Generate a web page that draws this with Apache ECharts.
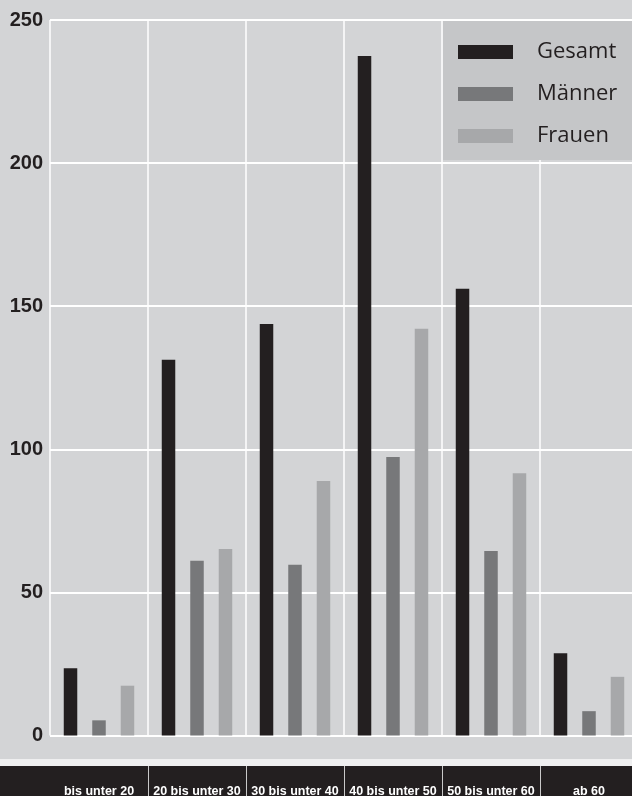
<!DOCTYPE html>
<html>
<head>
<meta charset="utf-8">
<style>
  html, body { margin: 0; padding: 0; background: #d3d4d6; }
  #chart { width: 632px; height: 796px; }
</style>
<script src="https://cdn.jsdelivr.net/npm/echarts@6/dist/echarts.min.js"></script>
</head>
<body>
<div id="chart"></div>
<script>
const categories = ['bis unter 20', '20 bis unter 30', '30 bis unter 40', '40 bis unter 50', '50 bis unter 60', 'ab 60'];
const seriesNames = ['Gesamt', 'Männer', 'Frauen'];
const gesamt = [23.5, 131.3, 143.8, 237.4, 156.1, 28.7];
const maenner = [5.3, 61.1, 59.7, 97.3, 64.5, 8.5];
const frauen = [17.4, 65.2, 88.9, 142.1, 91.6, 20.5];
const yTicks = [0, 50, 100, 150, 200, 250];

const colors = ['#231f20', '#77787a', '#a7a8aa'];
const chart = echarts.init(document.getElementById('chart'), null, { renderer: 'canvas' });

const barCommon = { type: 'bar', barWidth: 13.5, barGap: '111%', xAxisIndex: 0, yAxisIndex: 0 };

chart.setOption({
  animation: false,
  backgroundColor: '#d3d4d6',
  grid: [
    { left: 50, width: 588, top: 20, bottom: 60.5, outerBoundsMode: 'none', containLabel: false },
    { left: 50, width: 588, top: 766, height: 30, outerBoundsMode: 'none', containLabel: false }
  ],
  graphic: [
    { type: 'rect', z: -1, shape: { x: 0, y: 759, width: 632, height: 7 }, style: { fill: '#efeff0' }, silent: true },
    { type: 'rect', z: -1, shape: { x: 0, y: 766, width: 632, height: 30 }, style: { fill: '#231f20' }, silent: true },
    { type: 'rect', z: 3, shape: { x: 443, y: 21, width: 200, height: 139 }, style: { fill: '#c5c6c8' }, silent: true }
  ],
  legend: {
    data: seriesNames,
    orient: 'vertical',
    left: 458,
    top: 41,
    padding: 0,
    itemWidth: 55,
    itemHeight: 14,
    itemGap: 20,
    icon: 'rect',
    z: 5,
    textStyle: {
      fontFamily: 'Open Sans',
      fontSize: 22,
      lineHeight: 22,
      color: '#231f20',
      padding: [0, 0, 0, 19]
    }
  },
  xAxis: [
    {
      type: 'category', gridIndex: 0, data: categories,
      axisLine: { show: false }, axisTick: { show: false }, axisLabel: { show: false },
      splitLine: { show: true, interval: 0, lineStyle: { color: '#ffffff', width: 1.5 } }
    },
    {
      type: 'category', gridIndex: 1, data: categories,
      axisLine: { show: false }, axisTick: { show: false },
      axisLabel: {
        inside: true, margin: -3, color: '#ffffff',
        fontFamily: '"Liberation Sans", Arial, sans-serif',
        fontWeight: 'bold', fontSize: 12.5, lineHeight: 14, interval: 0
      },
      splitLine: { show: true, interval: 0, showMinLine: false, showMaxLine: false, lineStyle: { color: '#c9c9c9', width: 1 } }
    }
  ],
  yAxis: [
    {
      type: 'value', gridIndex: 0, min: yTicks[0], max: yTicks[yTicks.length - 1], interval: 50,
      axisLine: { show: false }, axisTick: { show: false },
      axisLabel: {
        margin: 7, color: '#231f20', fontFamily: '"Liberation Sans", Arial, sans-serif',
        fontWeight: 'bold', fontSize: 20
      },
      splitLine: { show: true, lineStyle: { color: '#ffffff', width: 2 } }
    },
    { type: 'value', gridIndex: 1, show: false }
  ],
  series: [
    Object.assign({ name: seriesNames[0], data: gesamt, itemStyle: { color: colors[0] } }, barCommon),
    Object.assign({ name: seriesNames[1], data: maenner, itemStyle: { color: colors[1] } }, barCommon),
    Object.assign({ name: seriesNames[2], data: frauen, itemStyle: { color: colors[2] } }, barCommon)
  ]
});
</script>
</body>
</html>
